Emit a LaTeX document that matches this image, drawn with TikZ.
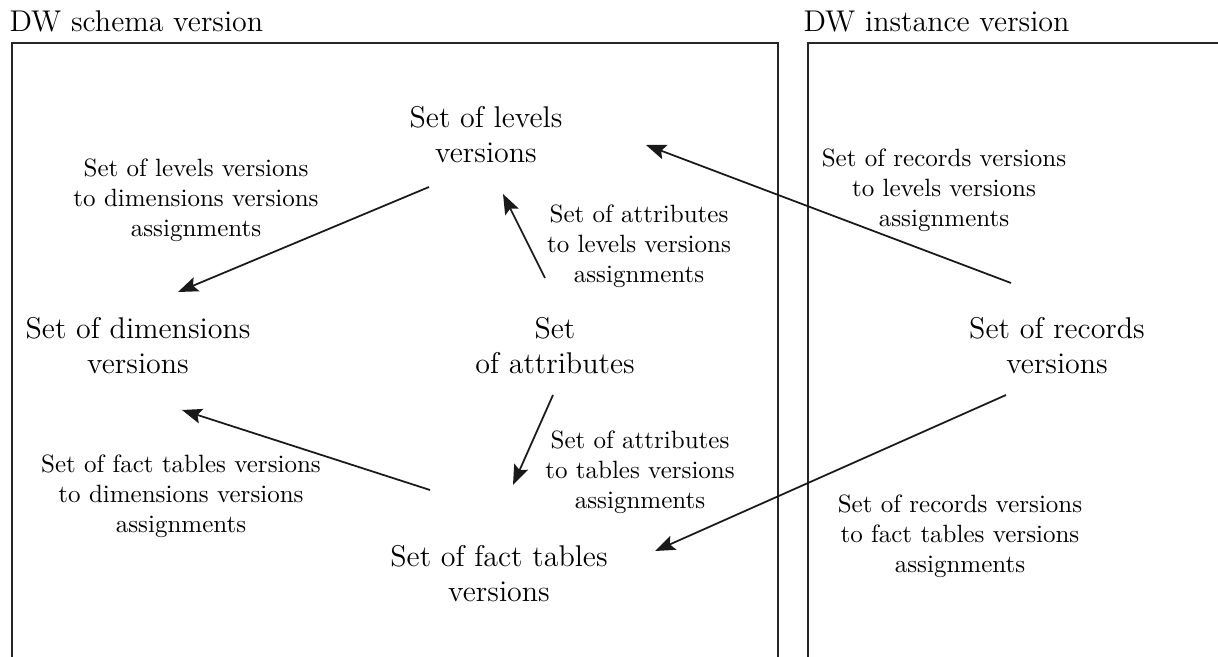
\documentclass[tikz,border=0pt]{standalone}
\usepackage{xcolor}
\usepackage{tikz}
\usetikzlibrary{arrows.meta,positioning,calc}

\begin{document}
\begin{tikzpicture}[
    x=0.4pt, y=-0.4pt,
    every node/.style={font=\normalsize},
    set/.style={font=\large, align=center, inner sep=0pt},
    assign/.style={font=\normalsize, align=center, inner sep=0pt},
    title/.style={font=\large, anchor=base west, inner sep=0pt},
    frame/.style={line width=0.6pt, color=black!85},
    arrow/.style={-{Stealth[length=8pt, width=6pt, inset=1.5pt]}, line width=0.7pt, color=black!90}
]
    \useasboundingbox (0,0) rectangle (1218,657);

    % frames of the two versions
    \draw[frame] (12,660) -- (12,43) -- (778,43) -- (778,660);
    \draw[frame] (808,660) -- (808,43) -- (1222,43);
    \node[title] (schema) at (9,32) {DW schema version};
    \node[title] (instance) at (803,32) {DW instance version};

    % sets
    \node[set] (levels) at (486,135) {Set of levels\\versions};
    \node[set] (dims) at (138,346) {Set of dimensions\\versions};
    \node[set] (attrs) at (555,346) {Set\\of attributes};
    \node[set] (facts) at (499,574) {Set of fact tables\\versions};
    \node[set] (records) at (1057,346) {Set of records\\versions};

    % assignments
    \node[assign] (lvl2dim) at (196,200) {Set of levels versions\\to dimensions versions\\assignments};
    \node[assign] (att2lvl) at (639,246) {Set of attributes\\to levels versions\\assignments};
    \node[assign] (rec2lvl) at (944,190) {Set of records versions\\to levels versions\\assignments};
    \node[assign] (att2tab) at (640,472) {Set of attributes\\to tables versions\\assignments};
    \node[assign] (fact2dim) at (181,496) {Set of fact tables versions\\to dimensions versions\\assignments};
    \node[assign] (rec2fact) at (960,536) {Set of records versions\\to fact tables versions\\assignments};

    \draw[arrow] ([shift={(-57,52)}]levels.center) -- ([shift={(40,-54)}]dims.center);
    \draw[arrow] ([shift={(-10,-68)}]attrs.center) -- ([shift={(17,59)}]levels.center);
    \draw[arrow] ([shift={(-46,-63)}]records.center) -- ([shift={(160,10)}]levels.center);
    \draw[arrow] ([shift={(-2,49)}]attrs.center) -- ([shift={(14,-89)}]facts.center);
    \draw[arrow] ([shift={(-69,-84)}]facts.center) -- ([shift={(44,64)}]dims.center);
    \draw[arrow] ([shift={(-51,49)}]records.center) -- ([shift={(156,-23)}]facts.center);
\end{tikzpicture}
\end{document}
